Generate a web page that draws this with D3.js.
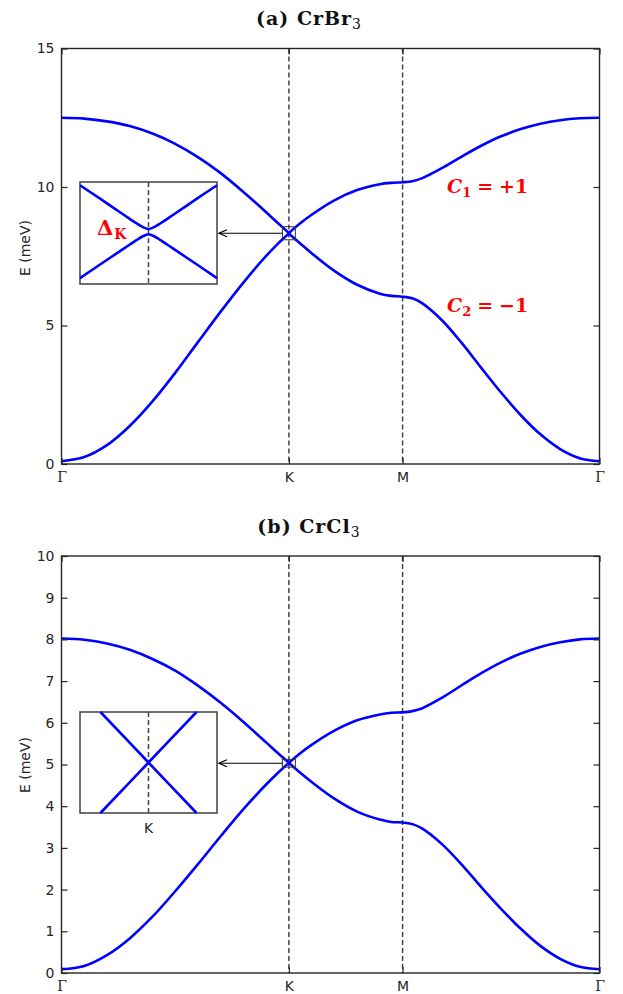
<!DOCTYPE html>
<html>
<head>
<meta charset="utf-8">
<script src="https://cdn.jsdelivr.net/npm/d3@7"></script>
<style>
  body { margin: 0; background: #fff; }
  svg { display: block; }
</style>
</head>
<body>
<div id="chart"></div>
<script>
// Path coordinate along Γ-K-M-Γ (ΓK = 1, KM = 0.5, MΓ = 0.866)
const kPath = [0, 0.1, 0.2, 0.3, 0.4, 0.5, 0.6, 0.7, 0.8, 0.9, 0.95, 1.0,
  1.05, 1.1, 1.2, 1.3, 1.4, 1.45, 1.5, 1.543,
  1.587, 1.673, 1.760, 1.846, 1.933, 2.020, 2.106, 2.193, 2.279, 2.366];
// index ranges: Γ-K, then K-M-Γ (split at K keeps the crossing sharp)
const legs = [[0, 11], [11, 29]];

const symLabels = ["Γ", "K", "M", "Γ"];
const symK = [0, 1, 1.5, 2.366];

// CrBr3 bands (meV)
const crbr3Upper = [12.50, 12.47, 12.37, 12.20, 11.93, 11.56, 11.08, 10.50, 9.82, 9.09, 8.71, 8.34,
  8.69, 9.00, 9.52, 9.89, 10.10, 10.15, 10.17, 10.21,
  10.32, 10.68, 11.10, 11.49, 11.83, 12.09, 12.28, 12.41, 12.48, 12.50];
const crbr3Lower = [0.10, 0.25, 0.68, 1.37, 2.26, 3.29, 4.40, 5.50, 6.55, 7.51, 7.94, 8.32,
  7.96, 7.61, 6.97, 6.47, 6.15, 6.07, 6.04, 5.98,
  5.80, 5.19, 4.37, 3.47, 2.58, 1.76, 1.07, 0.54, 0.21, 0.10];
const crbr3Ticks = [0, 5, 10, 15];

// CrCl3 bands (meV)
const crcl3Upper = [8.02, 7.99, 7.90, 7.75, 7.53, 7.25, 6.89, 6.48, 6.02, 5.53, 5.28, 5.04,
  5.27, 5.47, 5.81, 6.06, 6.20, 6.24, 6.25, 6.28,
  6.35, 6.60, 6.90, 7.19, 7.45, 7.66, 7.82, 7.93, 8.00, 8.02];
const crcl3Lower = [0.09, 0.17, 0.43, 0.83, 1.35, 1.96, 2.61, 3.28, 3.93, 4.52, 4.79, 5.04,
  4.80, 4.58, 4.18, 3.87, 3.68, 3.62, 3.61, 3.57,
  3.46, 3.09, 2.60, 2.06, 1.54, 1.06, 0.65, 0.34, 0.15, 0.09];
const crcl3Ticks = [0, 1, 2, 3, 4, 5, 6, 7, 8, 9, 10];

// zoom near K (q = k - K)
const crbr3InsetQ = [-0.0285, -0.02, -0.01, -0.005, -0.0025, 0, 0.0025, 0.005, 0.01, 0.02, 0.0285];
const crbr3InsetUpper = [8.550, 8.487, 8.412, 8.375, 8.358, 8.348, 8.358, 8.375, 8.412, 8.487, 8.550];
const crbr3InsetLower = [8.122, 8.186, 8.260, 8.297, 8.314, 8.324, 8.314, 8.297, 8.260, 8.186, 8.122];
const crcl3InsetQ = [-0.02, 0, 0.02];
const crcl3InsetA = [5.123, 5.03, 4.937];
const crcl3InsetB = [4.937, 5.03, 5.123];

const W = 623, H = 994;
const axisColor = "#262626";
const sans = "'DejaVu Sans', sans-serif";
const serif = "'DejaVu Serif', 'Liberation Serif', serif";

const svg = d3.select("#chart").append("svg")
  .attr("width", W).attr("height", H);

const xScale = d3.scaleLinear().domain([0, 2.366]).range([61.5, 599.5]);

const panels = [
  { title: "(a) CrBr", sub: "3", titleY: 25, top: 48.5, bottom: 464, yMax: 15, ticks: crbr3Ticks,
    upper: crbr3Upper, lower: crbr3Lower, labelY: 248,
    win: { c: 8.33, dE: 0.235, dk: 0.0285 }, inset: { left: 80, right: 217, top: 182, bottom: 284 },
    insetLines: [{ q: crbr3InsetQ, e: crbr3InsetUpper }, { q: crbr3InsetQ, e: crbr3InsetLower }],
    insetK: false, chern: true },
  { title: "(b) CrCl", sub: "3", titleY: 533, top: 556, bottom: 973, yMax: 10, ticks: crcl3Ticks,
    upper: crcl3Upper, lower: crcl3Lower, labelY: 765,
    win: { c: 5.03, dE: 0.093, dk: 0.0285 }, inset: { left: 80, right: 217, top: 712, bottom: 813 },
    insetLines: [{ q: crcl3InsetQ, e: crcl3InsetA }, { q: crcl3InsetQ, e: crcl3InsetB }],
    insetK: true, chern: false }
];

panels.forEach(p => {
  const g = svg.append("g");
  const yScale = d3.scaleLinear().domain([0, p.yMax]).range([p.bottom, p.top]);

  // Title
  const t = g.append("text")
    .attr("x", 309).attr("y", p.titleY)
    .attr("text-anchor", "middle")
    .style("font-family", serif).style("font-size", "19px").style("font-weight", "bold")
    .style("letter-spacing", "1px")
    .attr("fill", "#111");
  t.append("tspan").text(p.title);
  t.append("tspan").text(p.sub).attr("dy", 4)
    .style("font-size", "14px").style("font-weight", "normal");

  // Dashed lines at K and M
  g.selectAll(".sym")
    .data([1, 1.5])
    .join("line")
    .attr("x1", d => xScale(d)).attr("x2", d => xScale(d))
    .attr("y1", p.top).attr("y2", p.bottom)
    .attr("stroke", "#444").attr("stroke-width", 1.5)
    .attr("stroke-dasharray", "5,3");

  // Bands
  const line = d3.line()
    .x(d => xScale(d.k))
    .y(d => yScale(d.e))
    .curve(d3.curveCatmullRom.alpha(0.5));
  [p.upper, p.lower].forEach(band => {
    legs.forEach(([a, b]) => {
      const pts = d3.range(a, b + 1).map(i => ({ k: kPath[i], e: band[i] }));
      g.append("path")
        .attr("d", line(pts))
        .attr("fill", "none")
        .attr("stroke", "#0000ff")
        .attr("stroke-width", 2.6);
    });
  });

  // Axes (ticks inward on all sides)
  const left = d3.axisLeft(yScale).tickValues(p.ticks).tickFormat(d3.format("d"))
    .tickSizeInner(-6).tickSizeOuter(0).tickPadding(7);
  const right = d3.axisRight(yScale).tickValues(p.ticks).tickFormat("")
    .tickSizeInner(-6).tickSizeOuter(0);
  const bottom = d3.axisBottom(xScale).tickValues(symK).tickFormat((d, i) => symLabels[i])
    .tickSizeInner(-6).tickSizeOuter(0).tickPadding(8);
  const top = d3.axisTop(xScale).tickValues(symK).tickFormat("")
    .tickSizeInner(-6).tickSizeOuter(0);

  [[left, `translate(61.5,0)`], [right, `translate(599.5,0)`],
   [bottom, `translate(0,${p.bottom})`], [top, `translate(0,${p.top})`]].forEach(([ax, tr]) => {
    const a = g.append("g").attr("transform", tr).call(ax);
    a.select(".domain").remove();
    a.selectAll("line").attr("stroke", axisColor).attr("stroke-width", 1.2);
    a.selectAll("text").attr("fill", axisColor)
      .style("font-family", sans).style("font-size", "14px");
  });
  g.selectAll("text").filter(function () { return d3.select(this).text() === "Γ"; })
    .style("font-family", serif).style("font-size", "14px");

  // Frame
  g.append("rect")
    .attr("x", 61.5).attr("y", p.top)
    .attr("width", 538).attr("height", p.bottom - p.top)
    .attr("fill", "none").attr("stroke", axisColor).attr("stroke-width", 1.4);

  // Y label
  g.append("text")
    .attr("transform", `translate(30,${p.labelY}) rotate(-90)`)
    .attr("text-anchor", "middle")
    .style("font-family", sans).style("font-size", "14px")
    .attr("fill", axisColor)
    .text("E (meV)");

  // Small zoom box at K
  const w = p.win;
  const bx0 = xScale(1 - w.dk), bx1 = xScale(1 + w.dk);
  const by0 = yScale(w.c + w.dE), by1 = yScale(w.c - w.dE);
  g.append("rect")
    .attr("x", bx0).attr("y", by0)
    .attr("width", bx1 - bx0).attr("height", by1 - by0)
    .attr("fill", "none").attr("stroke", "#333").attr("stroke-width", 1);

  // Inset
  const ins = p.inset;
  const ix = d3.scaleLinear().domain([-w.dk, w.dk]).range([ins.left, ins.right]);
  const iy = d3.scaleLinear().domain([w.c - w.dE, w.c + w.dE]).range([ins.bottom, ins.top]);
  g.append("rect")
    .attr("x", ins.left).attr("y", ins.top)
    .attr("width", ins.right - ins.left).attr("height", ins.bottom - ins.top)
    .attr("fill", "#fff").attr("stroke", "#404040").attr("stroke-width", 1.5);
  g.append("line")
    .attr("x1", ix(0)).attr("x2", ix(0))
    .attr("y1", ins.top).attr("y2", ins.bottom)
    .attr("stroke", "#444").attr("stroke-width", 1.5)
    .attr("stroke-dasharray", "5,3");
  const iline = d3.line()
    .x(d => ix(d.q))
    .y(d => iy(d.e))
    .curve(d3.curveCatmullRom.alpha(0.5));
  p.insetLines.forEach(l => {
    g.append("path")
      .attr("d", iline(l.q.map((q, i) => ({ q, e: l.e[i] }))))
      .attr("fill", "none")
      .attr("stroke", "#0000ff")
      .attr("stroke-width", 2.6);
  });
  if (p.insetK) {
    g.append("text")
      .attr("x", ix(0)).attr("y", ins.bottom + 20)
      .attr("text-anchor", "middle")
      .style("font-family", sans).style("font-size", "14px")
      .attr("fill", axisColor)
      .text("K");
  }

  // Arrow from small box to inset
  const ay = yScale(w.c);
  const ax0 = ins.right + 2;
  g.append("line")
    .attr("x1", bx0).attr("x2", ax0)
    .attr("y1", ay).attr("y2", ay)
    .attr("stroke", "#000").attr("stroke-width", 1.2);
  g.append("path")
    .attr("d", `M${ax0 + 8},${ay - 3.5} L${ax0},${ay} L${ax0 + 8},${ay + 3.5}`)
    .attr("fill", "none").attr("stroke", "#000").attr("stroke-width", 1.3);

  if (p.chern) {
    // gap label in inset
    const dl = g.append("text")
      .attr("x", 97).attr("y", 235)
      .attr("fill", "#ff0000")
      .style("font-family", serif).style("font-weight", "bold").style("font-size", "21px");
    dl.append("tspan").text("Δ");
    dl.append("tspan").text("K").attr("dy", 4).attr("dx", 1).style("font-size", "14px");

    // Chern numbers
    [["1", "+1", yScale(10.17) + 11], ["2", "−1", yScale(6.04) + 15]].forEach(([n, v, y]) => {
      const c = g.append("text")
        .attr("x", 447).attr("y", y)
        .attr("fill", "#ff0000")
        .style("font-family", serif).style("font-weight", "bold").style("font-size", "19px");
      c.append("tspan").text("C").style("font-style", "italic");
      c.append("tspan").text(n).attr("dy", 4).style("font-size", "13px");
      c.append("tspan").text("=").attr("dy", -4).attr("dx", 6);
      c.append("tspan").text(v).attr("dx", 6);
    });
  }
});
</script>
</body>
</html>
